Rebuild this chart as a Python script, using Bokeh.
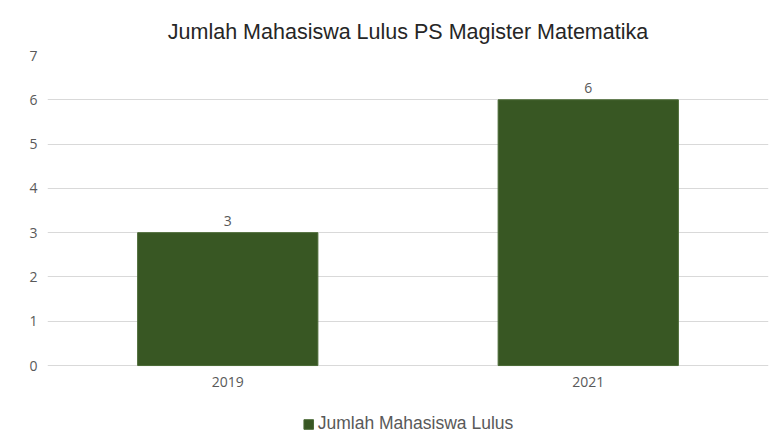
from bokeh.plotting import figure
from bokeh.models import ColumnDataSource, LabelSet, Legend, LegendItem, Range1d, FixedTicker
from bokeh.core.properties import value
from bokeh.embed import file_html
from bokeh.resources import INLINE

years = ["2019", "2021"]
lulus = [3, 6]
series_name = "Jumlah Mahasiswa Lulus"
title_text = "Jumlah Mahasiswa Lulus PS Magister Matematika"
y_ticks = [0, 1, 2, 3, 4, 5, 6, 7]

src = ColumnDataSource(dict(year=years, val=lulus, lab=[str(v) for v in lulus]))

p = figure(x_range=years, y_range=Range1d(-1.76, 7), width=774, height=443,
           output_backend="svg", toolbar_location=None,
           min_border_left=47, min_border_right=6, min_border_top=55, min_border_bottom=0)
p.title.text = title_text
p.title.align = "center"
p.title.text_font = "Liberation Sans"
p.title.text_font_size = "21.5px"
p.title.text_font_style = "normal"
p.title.text_color = "#262626"
p.title.standoff = 24

r = p.vbar(x="year", top="val", width=0.5, source=src, fill_color="#385723", line_color="#4a6a35", line_width=1)

labels = LabelSet(x="year", y="val", text="lab", source=src, text_align="center", text_baseline="bottom",
                  y_offset=7, text_font_size=value("14px"), text_color=value("#595959"),
                  text_font=value("Open Sans"))
p.add_layout(labels)

p.yaxis.ticker = FixedTicker(ticks=y_ticks)
p.xaxis.fixed_location = 0
for ax in (p.xaxis[0], p.yaxis[0]):
    ax.axis_line_color = None
    ax.major_tick_line_color = None
    ax.minor_tick_line_color = None
    ax.major_label_text_font = "Open Sans"
    ax.major_label_text_font_size = "14px"
    ax.major_label_text_color = "#595959"
p.xaxis.major_label_standoff = 5
p.yaxis.major_label_standoff = 4
p.xgrid.grid_line_color = None
p.ygrid.grid_line_color = "#d9d9d9"
p.outline_line_color = None

legend = Legend(items=[LegendItem(label=series_name, renderers=[r])], orientation="horizontal",
                location="bottom_center", label_text_font="Liberation Sans", label_text_font_size="17.5px",
                label_text_color="#595959", glyph_width=12, glyph_height=12, label_standoff=4,
                border_line_color=None, background_fill_alpha=0, padding=4, margin=9)
p.add_layout(legend)

open("out.html", "w").write(file_html(p, INLINE))
